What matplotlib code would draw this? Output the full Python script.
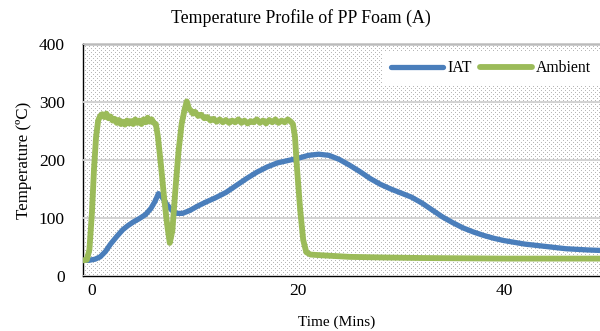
import numpy as np
import matplotlib
matplotlib.use("Agg")
import matplotlib.pyplot as plt

# ---- data ----
amb_t = [-0.85, -0.5, -0.25, 0.0, 0.2, 0.4, 0.6, 0.8, 1.0, 1.2, 1.4, 1.6, 1.8, 2.0, 2.2, 2.4,
         2.6, 2.8, 3.0, 3.2, 3.4, 3.6, 3.8, 4.0, 4.2, 4.4, 4.6, 4.8, 5.0, 5.2, 5.4, 5.6,
         5.8, 6.0, 6.2, 6.4, 6.7, 7.0, 7.3, 7.55, 7.8, 8.1, 8.4, 8.7, 9.0, 9.2, 9.4, 9.6,
         9.8, 10.0, 10.3, 10.6, 10.9, 11.2, 11.5, 11.8, 12.1, 12.4, 12.7, 13.0, 13.3, 13.6,
         13.9, 14.2, 14.5, 14.8, 15.1, 15.4, 15.7, 16.0, 16.3, 16.6, 16.9, 17.2, 17.5, 17.8,
         18.1, 18.4, 18.7, 19.0, 19.3, 19.5, 19.7, 19.9, 20.2, 20.5, 20.8, 21.2, 22.0, 23.0,
         25.0, 28.0, 32.0, 36.0, 40.0, 45.0, 49.4]
amb_v = [27, 28, 45, 110, 185, 240, 268, 276, 279, 274, 280, 272, 275, 268, 271, 264,
         269, 262, 266, 261, 268, 263, 267, 262, 270, 264, 268, 262, 270, 265, 273, 266,
         270, 264, 262, 240, 190, 135, 88, 57, 78, 150, 215, 262, 288, 301, 289, 285,
         280, 283, 276, 278, 272, 274, 268, 271, 266, 270, 265, 269, 264, 268,
         265, 270, 264, 268, 263, 267, 265, 270, 264, 268, 263, 269, 265, 270,
         264, 268, 265, 270, 266, 262, 240, 185, 115, 62, 41, 37, 36, 35,
         33, 32, 31, 30.5, 30, 30, 30]

iat_t = [-0.85, -0.3, 0.3, 0.8, 1.3, 1.8, 2.4, 3.0, 3.5, 4.0, 4.6, 5.2, 5.7, 6.1, 6.45,
         6.8, 7.2, 7.7, 8.2, 8.8, 9.5, 10.2, 11.0, 12.0, 13.0, 14.0, 15.0, 16.0, 17.0,
         18.0, 19.0, 20.0, 21.0, 22.0, 23.0, 24.0, 25.0, 26.0, 27.0, 28.0, 29.0, 30.0,
         31.0, 32.0, 33.0, 34.0, 35.0, 36.0, 37.0, 38.0, 39.0, 40.0, 41.0, 42.0, 43.0,
         44.0, 45.0, 46.0, 47.0, 48.0, 49.4]
iat_v = [27, 27, 29, 33, 42, 55, 68, 80, 87, 93, 99, 106, 116, 128, 142,
         136, 125, 114, 108, 108, 113, 120, 127, 135, 144, 156, 168, 179, 188,
         195, 199, 203, 208, 210, 208, 201, 191, 180, 168, 158, 150, 143,
         136, 126, 114, 102, 92, 83, 76, 70, 65, 61, 58, 55, 53,
         51, 49, 47, 46, 45, 44]

x_ticks = [0, 20, 40]
y_ticks = [0, 100, 200, 300, 400]
series_names = ["IAT", "Ambient"]
title = "Temperature Profile of PP Foam (A)"
x_label = "Time (Mins)"
y_label = "Temperature (ºC)"

# ---- styling ----
plt.rcParams['font.family'] = ['Liberation Serif', 'DejaVu Serif']
blue = "#4A7EBB"
green = "#9BBB59"

fig = plt.figure(figsize=(6.0, 3.31), dpi=100)
ax = fig.add_axes([83/600, 55/331, 517/600, 232/331])

# dotted background texture
H, W = 232, 517
tex = np.ones((H, W, 3))
rr, cc = np.mgrid[0:H, 0:W]
mask = ((rr % 4 == 0) & (cc % 4 == 0)) | ((rr % 4 == 2) & (cc % 4 == 2))
tex[mask] = 0.72
ax.imshow(tex, extent=[0, 1, 0, 1], transform=ax.transAxes, aspect='auto',
          interpolation='nearest', zorder=0)

ax.set_xlim(-0.87, 49.3)
ax.set_ylim(0, 400)
ax.set_yticks(y_ticks)
ax.set_xticks(x_ticks)
ax.yaxis.grid(True, color="#d0d0d0", linewidth=1.3, zorder=1)
ax.set_axisbelow(False)

l1, = ax.plot(iat_t, iat_v, color=blue, linewidth=3.8, solid_capstyle='round',
              solid_joinstyle='round', zorder=3, label=series_names[0])
l2, = ax.plot(amb_t, amb_v, color=green, linewidth=4.2, solid_capstyle='round',
              solid_joinstyle='round', zorder=4, label=series_names[1])

for s in ['left', 'bottom', 'top']:
    ax.spines[s].set_color('black')
    ax.spines[s].set_linewidth(1.0)
ax.spines['right'].set_visible(False)

ax.tick_params(axis='both', length=0, labelsize=12.5)
ax.tick_params(axis='y', pad=13)
ax.tick_params(axis='x', pad=5)

ax.set_xlabel(x_label, fontsize=11)
ax.xaxis.set_label_coords(0.49, -0.17)
ax.set_ylabel(y_label, fontsize=12.2)
ax.yaxis.set_label_coords(-0.098, 0.5)

fig.text(0.502, 0.945, title, ha='center', va='center', fontsize=12.8)

leg = ax.legend(handles=[l1, l2], loc='upper right', bbox_to_anchor=(1.0, 0.967),
                ncol=2, frameon=True, fancybox=False, fontsize=11.3,
                handlelength=3.3, columnspacing=0.5, handletextpad=0.3,
                borderaxespad=0, borderpad=0.55)
leg.get_frame().set_facecolor('white')
leg.get_frame().set_edgecolor('none')
leg.get_frame().set_alpha(1)

fig.savefig("out.png", dpi=100)
